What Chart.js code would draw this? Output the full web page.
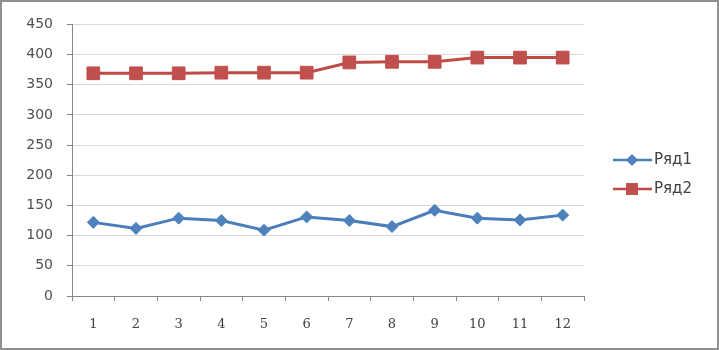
<!DOCTYPE html>
<html>
<head>
<meta charset="utf-8">
<script src="https://cdn.jsdelivr.net/npm/chart.js@4.4.0/dist/chart.umd.min.js"></script>
<style>
html, body { margin: 0; padding: 0; background: #fff; }
#marco {
    position: absolute; left: 0; top: 0;
    width: 719px; height: 350px;
    box-sizing: border-box;
    border: 2px solid #8f8f8f;
    background: #fff;
}
canvas { display: block; }
</style>
</head>
<body>
<div id="marco"><canvas id="grafica" width="715" height="346"></canvas></div>
<script>
var colorAzul = "#4a7ebb";
var colorAzulPunto = "#4f81bd";
var colorRojo = "#be4b48";
var colorRojoPunto = "#c0504d";
var colorEje = "#868686";
var colorRejilla = "#d9d9d9";

// datos
var categorias = ['1', '2', '3', '4', '5', '6', '7', '8', '9', '10', '11', '12'];
var ryad1 = [122, 112, 129, 125, 109, 131, 125, 115, 142, 129, 126, 134];
var ryad2 = [369, 369, 369, 370, 370, 370, 387, 388, 388, 395, 395, 395];
var nombresSeries = ['Ряд1', 'Ряд2'];
var ejeYMin = 0;
var ejeYMax = 450;
var ejeYPaso = 50;

// leyenda a la derecha: linea + marcador + texto
var leyendaDerecha = {
    id: 'leyendaDerecha',
    afterDraw: function (chart) {
        var ctx = chart.ctx;
        var x = chart.chartArea.right + 29;
        var y0 = 158;
        chart.data.datasets.forEach(function (ds, i) {
            var y = y0 + i * 29;
            ctx.save();
            ctx.strokeStyle = ds.borderColor;
            ctx.lineWidth = 2.5;
            ctx.beginPath();
            ctx.moveTo(x, y);
            ctx.lineTo(x + 39, y);
            ctx.stroke();
            ctx.fillStyle = ds.pointBackgroundColor;
            ctx.beginPath();
            if (ds.pointStyle === 'rectRot') {
                ctx.moveTo(x + 19, y - 6);
                ctx.lineTo(x + 25, y);
                ctx.lineTo(x + 19, y + 6);
                ctx.lineTo(x + 13, y);
                ctx.closePath();
            } else {
                ctx.rect(x + 13, y - 6, 12, 12);
            }
            ctx.fill();
            ctx.fillStyle = "#404040";
            ctx.font = '15px "DejaVu Sans"';
            ctx.textBaseline = 'middle';
            ctx.fillText(ds.label, x + 41, y);
            ctx.restore();
        });
    }
};

var datosGrafica = {
    labels: categorias,
    datasets: [{
        label: nombresSeries[0],
        data: ryad1,
        borderColor: colorAzul,
        backgroundColor: colorAzulPunto,
        borderWidth: 3,
        pointStyle: 'rectRot',
        pointRadius: 6,
        pointBackgroundColor: colorAzulPunto,
        pointBorderColor: colorAzulPunto,
        pointBorderWidth: 1,
        tension: 0
    }, {
        label: nombresSeries[1],
        data: ryad2,
        borderColor: colorRojo,
        backgroundColor: colorRojoPunto,
        borderWidth: 3,
        pointStyle: 'rect',
        pointRadius: 9,
        pointBackgroundColor: colorRojoPunto,
        pointBorderColor: colorRojoPunto,
        pointBorderWidth: 1,
        tension: 0
    }]
};

var configuracion = {
    type: 'line',
    data: datosGrafica,
    options: {
        responsive: false,
        animation: false,
        layout: { autoPadding: false, padding: { top: 17, right: 133, bottom: 0, left: 0 } },
        plugins: {
            legend: { display: false },
            tooltip: { enabled: false }
        },
        scales: {
            x: {
                offset: true,
                grid: { offset: true, drawOnChartArea: false, drawTicks: true, tickLength: 5, color: colorEje },
                border: { color: colorEje },
                ticks: { color: "#404040", font: { family: 'DejaVu Serif', size: 13 }, padding: 16, maxRotation: 0 },
                afterFit: function (escala) { escala.height = 52; }
            },
            y: {
                min: ejeYMin,
                max: ejeYMax,
                grid: { color: colorRejilla, tickLength: 5, tickColor: colorEje },
                border: { color: colorEje },
                ticks: { stepSize: ejeYPaso, color: "#505050", font: { family: 'DejaVu Sans', size: 14 }, padding: 14 },
                afterFit: function (escala) { escala.width = 70; }
            }
        }
    },
    plugins: [leyendaDerecha]
};

var graficaJavascript = new Chart(
    document.getElementById('grafica'),
    configuracion
);
</script>
</body>
</html>
